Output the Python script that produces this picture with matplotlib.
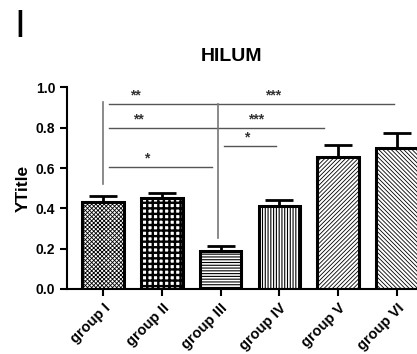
import matplotlib
matplotlib.use('Agg')
from matplotlib import pyplot as plt
import numpy as np

# Data
groups = ['group I', 'group II', 'group III', 'group IV', 'group V', 'group VI']
means = [0.433, 0.452, 0.189, 0.412, 0.657, 0.700]
errors = [0.030, 0.023, 0.024, 0.030, 0.056, 0.076]
hatches = ['xxxxxxxx', '+++', '------', '||||||', '////////', '\\\\\\\\\\\\\\\\']
hatch_widths = [0.6, 1.7, 0.8, 0.8, 0.6, 0.6]

# significance brackets: (x start, x end, y, labels as (x, text))
brackets = [
    (0.1, 4.95, 0.918, [(0.55, '**'), (2.9, '***')]),
    (0.1, 3.75, 0.800, [(0.6, '**'), (2.6, '***')]),
    (2.05, 2.95, 0.707, [(2.45, '*')]),
    (0.1, 1.85, 0.607, [(0.75, '*')]),
]
# vertical guide lines: (x, y top, y bottom)
verticals = [(0.0, 0.93, 0.52), (1.95, 0.918, 0.253)]

plt.rcParams['font.family'] = ['Liberation Sans', 'DejaVu Sans']

fig = plt.figure(figsize=(4.17, 3.54), dpi=100)
ax = fig.add_axes([0.161, 0.184, 0.839, 0.569])

x = np.arange(len(groups))
for i in range(len(groups)):
    plt.rcParams['hatch.linewidth'] = hatch_widths[i]
    ax.bar(x[i], means[i], width=0.71, color='white', edgecolor='black',
           linewidth=2.2, hatch=hatches[i], zorder=2)
ax.errorbar(x, means, yerr=[np.zeros(len(errors)), errors], fmt='none',
            ecolor='black', elinewidth=2, capsize=10, capthick=2, zorder=1)

for x0, x1, y, labels in brackets:
    ax.plot([x0, x1], [y, y], color='#555555', linewidth=1, clip_on=False)
    for lx, text in labels:
        ax.text(lx, y + 0.008, text, ha='center', va='bottom',
                fontsize=10, fontweight='bold', color='#333333')
for vx, y0, y1 in verticals:
    ax.plot([vx, vx], [y0, y1], color='#777777', linewidth=1.2)

ax.set_xlim(-0.61, 5.34)
ax.set_ylim(0, 1.0)
ax.set_yticks([0.0, 0.2, 0.4, 0.6, 0.8, 1.0])
ax.set_yticklabels(['0.0', '0.2', '0.4', '0.6', '0.8', '1.0'],
                   fontsize=10, fontweight='bold')
ax.set_xticks(x)
ax.set_xticklabels(groups, rotation=45, ha='right', rotation_mode='anchor',
                   fontsize=10.5, fontweight='bold')
ax.tick_params(axis='both', direction='out', width=1.5, length=5)
ax.spines['top'].set_visible(False)
ax.spines['right'].set_visible(False)
ax.spines['left'].set_linewidth(1.5)
ax.spines['bottom'].set_linewidth(1.5)
ax.set_ylabel('YTitle', fontsize=12.5, fontweight='bold', labelpad=4)

fig.text(0.556, 0.839, 'HILUM', fontsize=14, fontweight='bold',
         ha='center', va='center')
fig.text(0.048, 0.924, 'I', fontsize=28, ha='center', va='center')

fig.savefig('out.png', dpi=100)
